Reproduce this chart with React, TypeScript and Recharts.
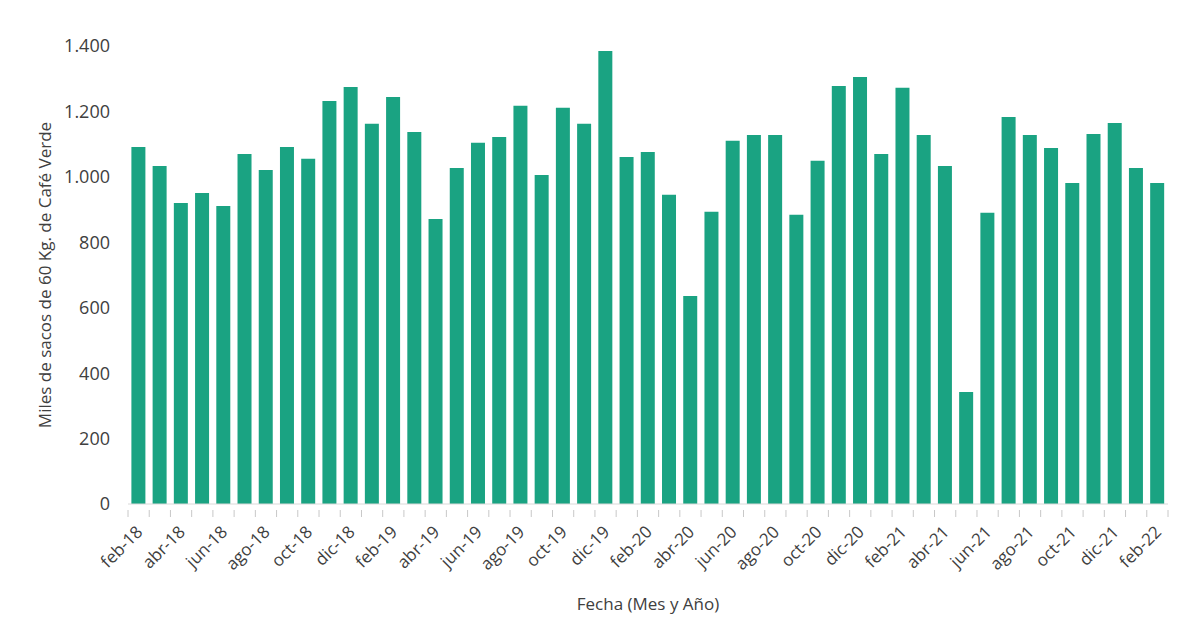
import { BarChart, Bar, XAxis, YAxis } from "recharts";

// Monthly values, feb-18 .. feb-22 (thousands of 60 kg bags)
const months = [
  "feb-18", "mar-18", "abr-18", "may-18", "jun-18", "jul-18", "ago-18", "sep-18", "oct-18", "nov-18", "dic-18",
  "ene-19", "feb-19", "mar-19", "abr-19", "may-19", "jun-19", "jul-19", "ago-19", "sep-19", "oct-19", "nov-19", "dic-19",
  "ene-20", "feb-20", "mar-20", "abr-20", "may-20", "jun-20", "jul-20", "ago-20", "sep-20", "oct-20", "nov-20", "dic-20",
  "ene-21", "feb-21", "mar-21", "abr-21", "may-21", "jun-21", "jul-21", "ago-21", "sep-21", "oct-21", "nov-21", "dic-21",
  "ene-22", "feb-22",
];

const values = [
  1091, 1033, 920, 951, 911, 1070, 1021, 1091, 1055, 1232, 1275,
  1162, 1244, 1137, 871, 1027, 1104, 1122, 1217, 1006, 1211, 1162, 1385,
  1061, 1076, 945, 636, 893, 1110, 1128, 1128, 884, 1049, 1278, 1305,
  1070, 1272, 1128, 1033, 342, 890, 1183, 1128, 1088, 981, 1131, 1165,
  1027, 981,
];

const yTicks = [0, 200, 400, 600, 800, 1000, 1200, 1400];

const data = months.map((m, i) => ({ month: m, value: values[i] }));

const W = 1189;
const H = 621;
const LEFT = 128;
const RIGHT = 21;
const TOP = 46;
const BOTTOM = 117;
const catW = (W - LEFT - RIGHT) / data.length;

const FONT = "'Open Sans', sans-serif";
const TEXT = "#404040";

const fmt = (v: number) => v.toLocaleString("de-DE");

function MonthTick(props: any) {
  const { x, y, index, payload } = props;
  const left = x - catW / 2;
  const lx = x + 5;
  const ly = y + 21;
  return (
    <g>
      <line x1={left} y1={y - 2} x2={left} y2={y + 5} stroke="#c8c8c8" />
      {index === data.length - 1 && (
        <line x1={left + catW} y1={y - 2} x2={left + catW} y2={y + 5} stroke="#c8c8c8" />
      )}
      {index % 2 === 0 && (
        <text
          x={lx}
          y={ly}
          transform={`rotate(-45, ${lx}, ${ly})`}
          textAnchor="end"
          fontSize={17}
          fontFamily={FONT}
          fill={TEXT}
        >
          {payload.value}
        </text>
      )}
    </g>
  );
}

export default function App() {
  return (
    <div style={{ position: "absolute", left: 0, top: 0, width: W, height: H, background: "#fff" }}>
      <BarChart
        width={W}
        height={H}
        data={data}
        margin={{ top: TOP, right: RIGHT, left: 30, bottom: 0 }}
        barCategoryGap="16%"
      >
        <XAxis
          dataKey="month"
          interval={0}
          height={BOTTOM}
          axisLine={{ stroke: "#d9d9d9" }}
          tickLine={false}
          tick={<MonthTick />}
          label={{
            content: (p: any) => {
              const vb = p.viewBox;
              return (
                <text
                  x={vb.x + vb.width / 2}
                  y={vb.y + 99}
                  textAnchor="middle"
                  dominantBaseline="central"
                  fontSize={17}
                  fontFamily={FONT}
                  fill={TEXT}
                >
                  Fecha (Mes y Año)
                </text>
              );
            },
          }}
        />
        <YAxis
          width={LEFT - 30}
          domain={[0, 1400]}
          ticks={yTicks}
          tickFormatter={fmt}
          axisLine={false}
          tickLine={false}
          tickSize={0}
          tickMargin={18}
          tick={{ fontSize: 18, fontFamily: FONT, fill: TEXT }}
          label={{
            content: (p: any) => {
              const vb = p.viewBox;
              const cx = vb.x + 14;
              const cy = vb.y + vb.height / 2;
              return (
                <text
                  x={cx}
                  y={cy}
                  transform={`rotate(-90, ${cx}, ${cy})`}
                  textAnchor="middle"
                  dominantBaseline="central"
                  fontSize={17}
                  fontFamily={FONT}
                  fill={TEXT}
                >
                  Miles de sacos de 60 Kg. de Café Verde
                </text>
              );
            },
          }}
        />
        <Bar dataKey="value" fill="#1aa382" isAnimationActive={false} />
      </BarChart>
    </div>
  );
}
